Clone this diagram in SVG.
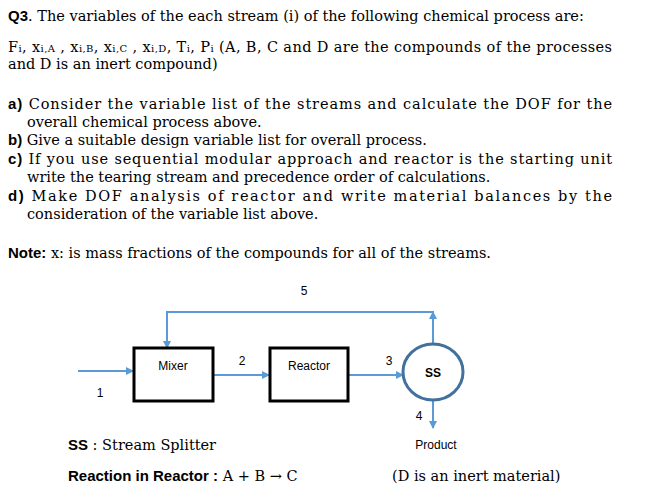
<svg xmlns="http://www.w3.org/2000/svg" width="649" height="501" viewBox="0 0 649 501">
<defs>
<style>
.t{font-family:"DejaVu Serif",serif;font-size:14.5px;fill:#000}
.b{font-family:"Liberation Sans",sans-serif;font-weight:bold;font-size:15px}
.s{font-family:"Liberation Sans",sans-serif;font-size:12px;fill:#000}
.box{fill:#fff;stroke:#000;stroke-width:3}
.c{fill:none;stroke:#5b9bd5;stroke-width:2}
</style>
<marker id="ar" markerWidth="8" markerHeight="8" refX="7" refY="4" orient="auto" markerUnits="userSpaceOnUse"><path d="M0,0 L8,4 L0,8 z" fill="#5b9bd5"/></marker>
</defs>
<rect width="649" height="501" fill="#fff"/>
<text class="t" x="8" y="21"><tspan class="b">Q3</tspan>. The variables of the each stream (i) of the following chemical process are:</text>
<text class="t" x="8" y="52" textLength="604">F<tspan font-size="10">i</tspan>, x<tspan font-size="10">i,A</tspan> , x<tspan font-size="10">i,B</tspan>,  x<tspan font-size="10">i,C</tspan> , x<tspan font-size="10">i,D</tspan>, T<tspan font-size="10">i</tspan>, P<tspan font-size="10">i</tspan> (A, B, C and D are the compounds of the processes</text>
<text class="t" x="8" y="69">and D is an inert compound)</text>
<text class="t" x="8" y="109" textLength="604"><tspan class="b">a)</tspan> Consider the variable list of the streams and calculate the DOF for the</text>
<text class="t" x="27" y="127">overall chemical process above.</text>
<text class="t" x="8" y="145"><tspan class="b">b)</tspan> Give a suitable design variable list for overall process.</text>
<text class="t" x="8" y="164" textLength="604"><tspan class="b">c)</tspan> If you use sequential modular approach and reactor is the starting unit</text>
<text class="t" x="27" y="182">write the tearing stream and precedence order of calculations.</text>
<text class="t" x="8" y="201" textLength="604"><tspan class="b">d)</tspan> Make DOF analysis of reactor and write material balances by the</text>
<text class="t" x="27" y="219">consideration of the variable list above.</text>
<text class="t" x="8" y="258"><tspan class="b">Note:</tspan> x: is mass fractions of the compounds for all of the streams.</text>
<g id="connectors">
<path class="c" d="M78,371 H133" marker-end="url(#ar)"/>
<path class="c" d="M213,375 H269" marker-end="url(#ar)"/>
<path class="c" d="M348,375 H403" marker-end="url(#ar)"/>
<path class="c" d="M433,343 V312 H167 V348" marker-end="url(#ar)"/>
<path class="c" d="M433,343 V312" marker-end="url(#ar)"/>
<path class="c" d="M433,401 V428" marker-end="url(#ar)"/>
</g>
<g id="mixer"><rect class="box" x="134" y="348" width="79" height="53"/><text class="s" x="173" y="370" text-anchor="middle">Mixer</text></g>
<g id="reactor"><rect class="box" x="270" y="348" width="78" height="53"/><text class="s" x="309" y="370" text-anchor="middle">Reactor</text></g>
<g id="ss"><ellipse cx="433" cy="372" rx="30" ry="28" fill="#fff" stroke="#41719c" stroke-width="3"/><text class="s" x="433" y="377" text-anchor="middle" font-weight="bold" font-size="11">SS</text></g>
<g id="labels" class="s">
<text x="100" y="397" text-anchor="middle">1</text>
<text x="242" y="365" text-anchor="middle">2</text>
<text x="389" y="365" text-anchor="middle">3</text>
<text x="419" y="420" text-anchor="middle">4</text>
<text x="304" y="295" text-anchor="middle">5</text>
<text x="436" y="449" text-anchor="middle">Product</text>
</g>
<text class="t" x="68" y="450"><tspan class="b">SS</tspan> : Stream Splitter</text>
<text class="t" x="68" y="481"><tspan class="b">Reaction in Reactor :</tspan> A + B  → C</text>
<text class="t" x="392" y="481">(D is an inert material)</text>
</svg>
